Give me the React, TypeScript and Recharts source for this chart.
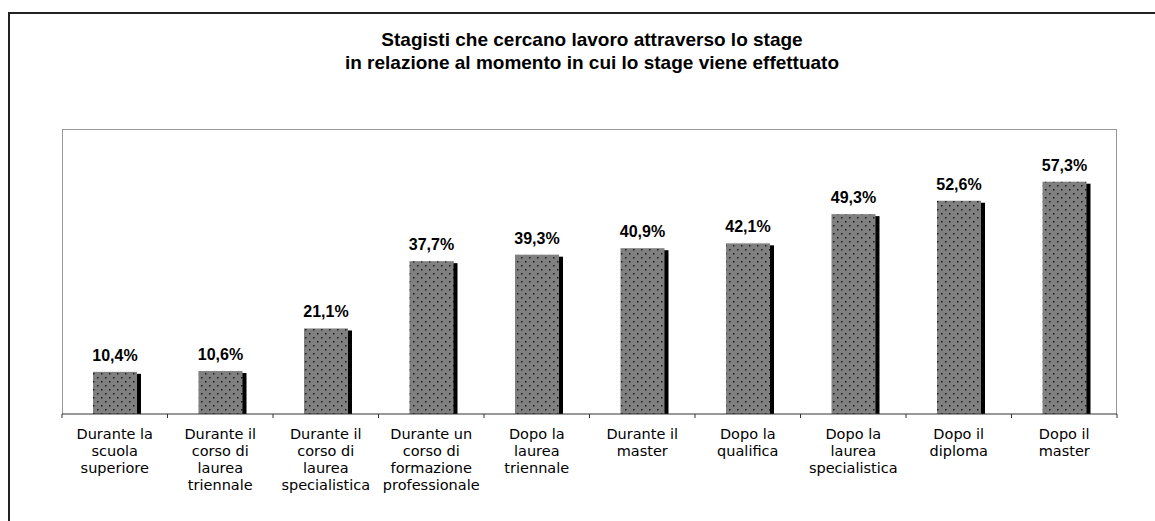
import React from 'react';
import { BarChart, Bar, XAxis, YAxis, LabelList } from 'recharts';

const categories = [
  ['Durante la', 'scuola', 'superiore'],
  ['Durante il', 'corso di', 'laurea', 'triennale'],
  ['Durante il', 'corso di', 'laurea', 'specialistica'],
  ['Durante un', 'corso di', 'formazione', 'professionale'],
  ['Dopo la', 'laurea', 'triennale'],
  ['Durante il', 'master'],
  ['Dopo la', 'qualifica'],
  ['Dopo la', 'laurea', 'specialistica'],
  ['Dopo il', 'diploma'],
  ['Dopo il', 'master'],
];
const values = [10.4, 10.6, 21.1, 37.7, 39.3, 40.9, 42.1, 49.3, 52.6, 57.3];
const titleLines = [
  'Stagisti che cercano lavoro attraverso lo stage',
  'in relazione al momento in cui lo stage viene effettuato',
];

const data = categories.map((lines, i) => ({ name: lines.join(' '), lines, value: values[i] }));

const W = 1155;
const H = 521;
const axisH = 107;
const margin = { top: 129, right: 38, bottom: 0, left: 62 };
const plotW = W - margin.left - margin.right;
const plotH = H - margin.top - axisH;
const band = plotW / categories.length;

const fmt = (v: number) => v.toFixed(1).replace('.', ',') + '%';

const ShadowBar = (props: any) => {
  const { x, y, width, height } = props;
  if (!height) return null;
  return (
    <g>
      <rect x={x + 4} y={y + 2} width={width} height={height - 2} fill="#000" />
      <rect x={x} y={y} width={width} height={height} fill="url(#dots)" />
    </g>
  );
};

const CatTick = (props: any) => {
  const { x, y, index } = props;
  const lines = categories[index] || [];
  return (
    <g>
      <line x1={x - band / 2} x2={x - band / 2} y1={y - 8} y2={y - 4} stroke="#333" />
      {index === categories.length - 1 && (
        <line x1={x + band / 2} x2={x + band / 2} y1={y - 8} y2={y - 4} stroke="#333" />
      )}
      <text textAnchor="middle" fontFamily="'DejaVu Sans', Verdana, sans-serif" fontSize={14.5} fill="#000">
        {lines.map((l: string, i: number) => (
          <tspan key={i} x={x} y={y + 17 + i * 17}>{l}</tspan>
        ))}
      </text>
    </g>
  );
};

const ValueLabel = (props: any) => {
  const { x, y, width, value } = props;
  return (
    <text x={x + width / 2} y={y - 11} textAnchor="middle" fontFamily="'Liberation Sans', Arial, sans-serif"
      fontWeight="bold" fontSize={16} fill="#000">
      {fmt(value)}
    </text>
  );
};

export default function App() {
  return (
    <div style={{ position: 'absolute', left: 0, top: 0, width: W, height: H, background: '#fff', overflow: 'hidden' }}>
      <div style={{ position: 'absolute', left: 8, top: 12, right: 0, bottom: 0, borderLeft: '2px solid #222', borderTop: '2px solid #222' }} />
      <div style={{
        position: 'absolute', left: 292, width: 600, top: 28, textAlign: 'center',
        fontFamily: "'Liberation Sans', Arial, sans-serif", fontWeight: 'bold', fontSize: 19, lineHeight: '23px', color: '#000',
      }}>
        {titleLines.map((t, i) => <div key={i}>{t}</div>)}
      </div>
      <div style={{
        position: 'absolute', left: margin.left, top: margin.top, width: plotW, height: plotH,
        boxSizing: 'border-box', border: '1px solid #999', borderBottom: 'none',
      }} />
      <div style={{ position: 'absolute', left: 0, top: 0 }}>
        <BarChart width={W} height={H} data={data} margin={margin} barSize={44}>
          <defs>
            <pattern id="dots" width="8" height="8" patternUnits="userSpaceOnUse">
              <rect width="8" height="8" fill="#808080" />
              <rect x="1" y="1" width="1.5" height="1.5" fill="#1a1a1a" />
              <rect x="5" y="5" width="1.5" height="1.5" fill="#1a1a1a" />
            </pattern>
          </defs>
          <YAxis hide domain={[0, 70.3]} />
          <XAxis dataKey="name" axisLine={{ stroke: '#333' }} tickLine={false} interval={0}
            tick={<CatTick />} height={axisH} />
          <Bar dataKey="value" shape={<ShadowBar />} isAnimationActive={false}>
            <LabelList dataKey="value" content={<ValueLabel />} />
          </Bar>
        </BarChart>
      </div>
    </div>
  );
}
